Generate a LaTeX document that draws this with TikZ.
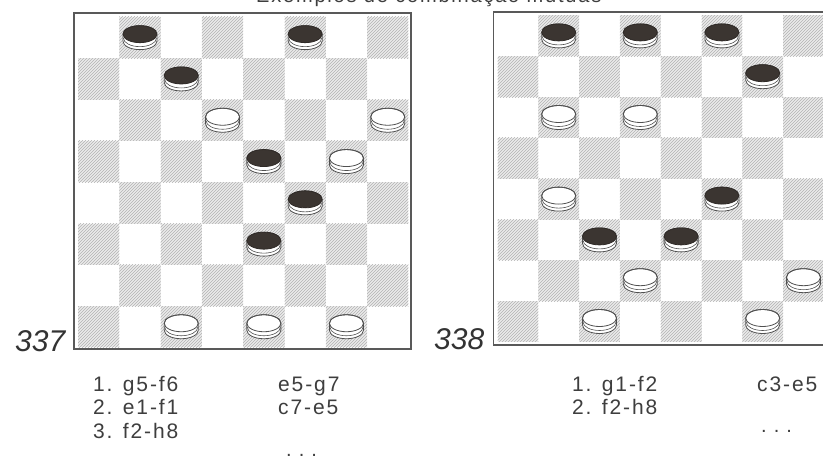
\documentclass[tikz,border=0pt]{standalone}
\usepackage{fontspec}
\setmainfont{Liberation Sans}
\usetikzlibrary{patterns}
\definecolor{ink}{HTML}{3E3E3E}
\definecolor{numink}{HTML}{333333}
\definecolor{blk}{HTML}{3B3531}
\definecolor{pline}{HTML}{505050}
\newfontfamily\movefont[LetterSpace=9]{Liberation Sans}
\tikzset{
  movetxt/.style={anchor=base west, inner sep=0pt, text=ink, font=\fontsize{21}{23}\movefont},
  numtxt/.style={anchor=base west, inner sep=0pt, text=numink, font=\fontsize{30}{30}\selectfont\itshape},
  frame/.style={draw=black!65, line width=1.3pt},
  darksq/.style={fill=gray!16},
  hatchsq/.style={pattern=north east lines, pattern color=gray!60},
  bpiece/.pic={
    \filldraw[fill=white, draw=pline, line width=0.8pt]
      (-17,-3.5) -- (-17,3.5) arc[start angle=180, end angle=0, x radius=17, y radius=8.5]
      -- (17,-3.5) arc[start angle=0, end angle=-180, x radius=17, y radius=8.5] -- cycle;
    \draw[pline, line width=0.6pt] (-16.5,0.5) arc[start angle=180, end angle=0, x radius=16.5, y radius=8.5];
    \filldraw[fill=blk, draw=blk!80!black, line width=0.8pt] (0,-3.5) ellipse[x radius=17, y radius=8.5];
  },
  wpiece/.pic={
    \filldraw[fill=white, draw=pline, line width=0.8pt]
      (-17,-3.5) -- (-17,3.5) arc[start angle=180, end angle=0, x radius=17, y radius=8.5]
      -- (17,-3.5) arc[start angle=0, end angle=-180, x radius=17, y radius=8.5] -- cycle;
    \draw[pline, line width=0.6pt] (-16.5,0.5) arc[start angle=180, end angle=0, x radius=16.5, y radius=8.5];
    \draw[pline, line width=0.8pt] (0,-3.5) ellipse[x radius=17, y radius=8.5];
  }
}
\begin{document}
\begin{tikzpicture}[x=1pt, y=-1pt]
\useasboundingbox (0,0) rectangle (823,460);
\clip (0,0) rectangle (823,460);
\fill[white] (0,0) rectangle (823,460);

% title (mostly cut off at the top)
\node[anchor=base west, inner sep=0pt, text=ink, font=\fontsize{20}{22}\movefont] (title) at (256,3) {Exemplos de combinação mútuas};

% ---------- board 337 ----------
\def\xa{78}\def\ya{17}\def\sa{41.3}
\foreach \c in {1,...,8}{
  \foreach \r in {1,...,8}{
    \pgfmathtruncatemacro{\pty}{mod(\c+\r,2)}
    \ifnum\pty=0
      \fill[darksq] ({\xa+(\c-1)*\sa},{\ya+(8-\r)*\sa}) rectangle ++(\sa,\sa);
      \fill[hatchsq] ({\xa+(\c-1)*\sa},{\ya+(8-\r)*\sa}) rectangle ++(\sa,\sa);
    \fi
  }
}
\draw[frame] (74,13) rectangle (411,349);
\foreach \c/\r in {2/8,6/8,3/7,5/5,6/4,5/3}
  \pic at ({\xa+(\c-0.5)*\sa},{\ya+(8.5-\r)*\sa}) {bpiece};
\foreach \c/\r in {4/6,8/6,7/5,3/1,5/1,7/1}
  \pic at ({\xa+(\c-0.5)*\sa},{\ya+(8.5-\r)*\sa}) {wpiece};

% ---------- board 338 ----------
\def\xb{497.5}\def\yb{15.5}\def\sb{40.8}
\foreach \c in {1,...,8}{
  \foreach \r in {1,...,8}{
    \pgfmathtruncatemacro{\pty}{mod(\c+\r,2)}
    \ifnum\pty=0
      \fill[darksq] ({\xb+(\c-1)*\sb},{\yb+(8-\r)*\sb}) rectangle ++(\sb,\sb);
      \fill[hatchsq] ({\xb+(\c-1)*\sb},{\yb+(8-\r)*\sb}) rectangle ++(\sb,\sb);
    \fi
  }
}
\draw[frame] (493.5,12) rectangle (831,345);
\foreach \c/\r in {2/8,4/8,6/8,7/7,6/4,3/3,5/3}
  \pic at ({\xb+(\c-0.5)*\sb},{\yb+(8.5-\r)*\sb}) {bpiece};
\foreach \c/\r in {2/6,4/6,2/4,4/2,8/2,3/1,7/1}
  \pic at ({\xb+(\c-0.5)*\sb},{\yb+(8.5-\r)*\sb}) {wpiece};

% ---------- numbers ----------
\node[numtxt] (n337) at (15,351) {337};
\node[numtxt] (n338) at (434,349) {338};

% ---------- moves 337 ----------
\node[movetxt] (a1) at (93,391) {1. g5-f6};
\node[movetxt] (a2) at (93,414.5) {2. e1-f1};
\node[movetxt] (a3) at (93,438) {3. f2-h8};
\node[movetxt] (b1) at (278,391) {e5-g7};
\node[movetxt] (b2) at (278,414.5) {c7-e5};
\node[movetxt, font=\fontsize{20}{22}\selectfont] (b3) at (286,456.5) {.\hspace{7pt}.\hspace{7pt}.};

% ---------- moves 338 ----------
\node[movetxt] (c1) at (572,391) {1. g1-f2};
\node[movetxt] (c2) at (572,414.5) {2. f2-h8};
\node[movetxt] (d1) at (757,391) {c3-e5};
\node[movetxt, font=\fontsize{20}{22}\selectfont] (d2) at (761,432) {.\hspace{7pt}.\hspace{7pt}.};
\end{tikzpicture}
\end{document}
